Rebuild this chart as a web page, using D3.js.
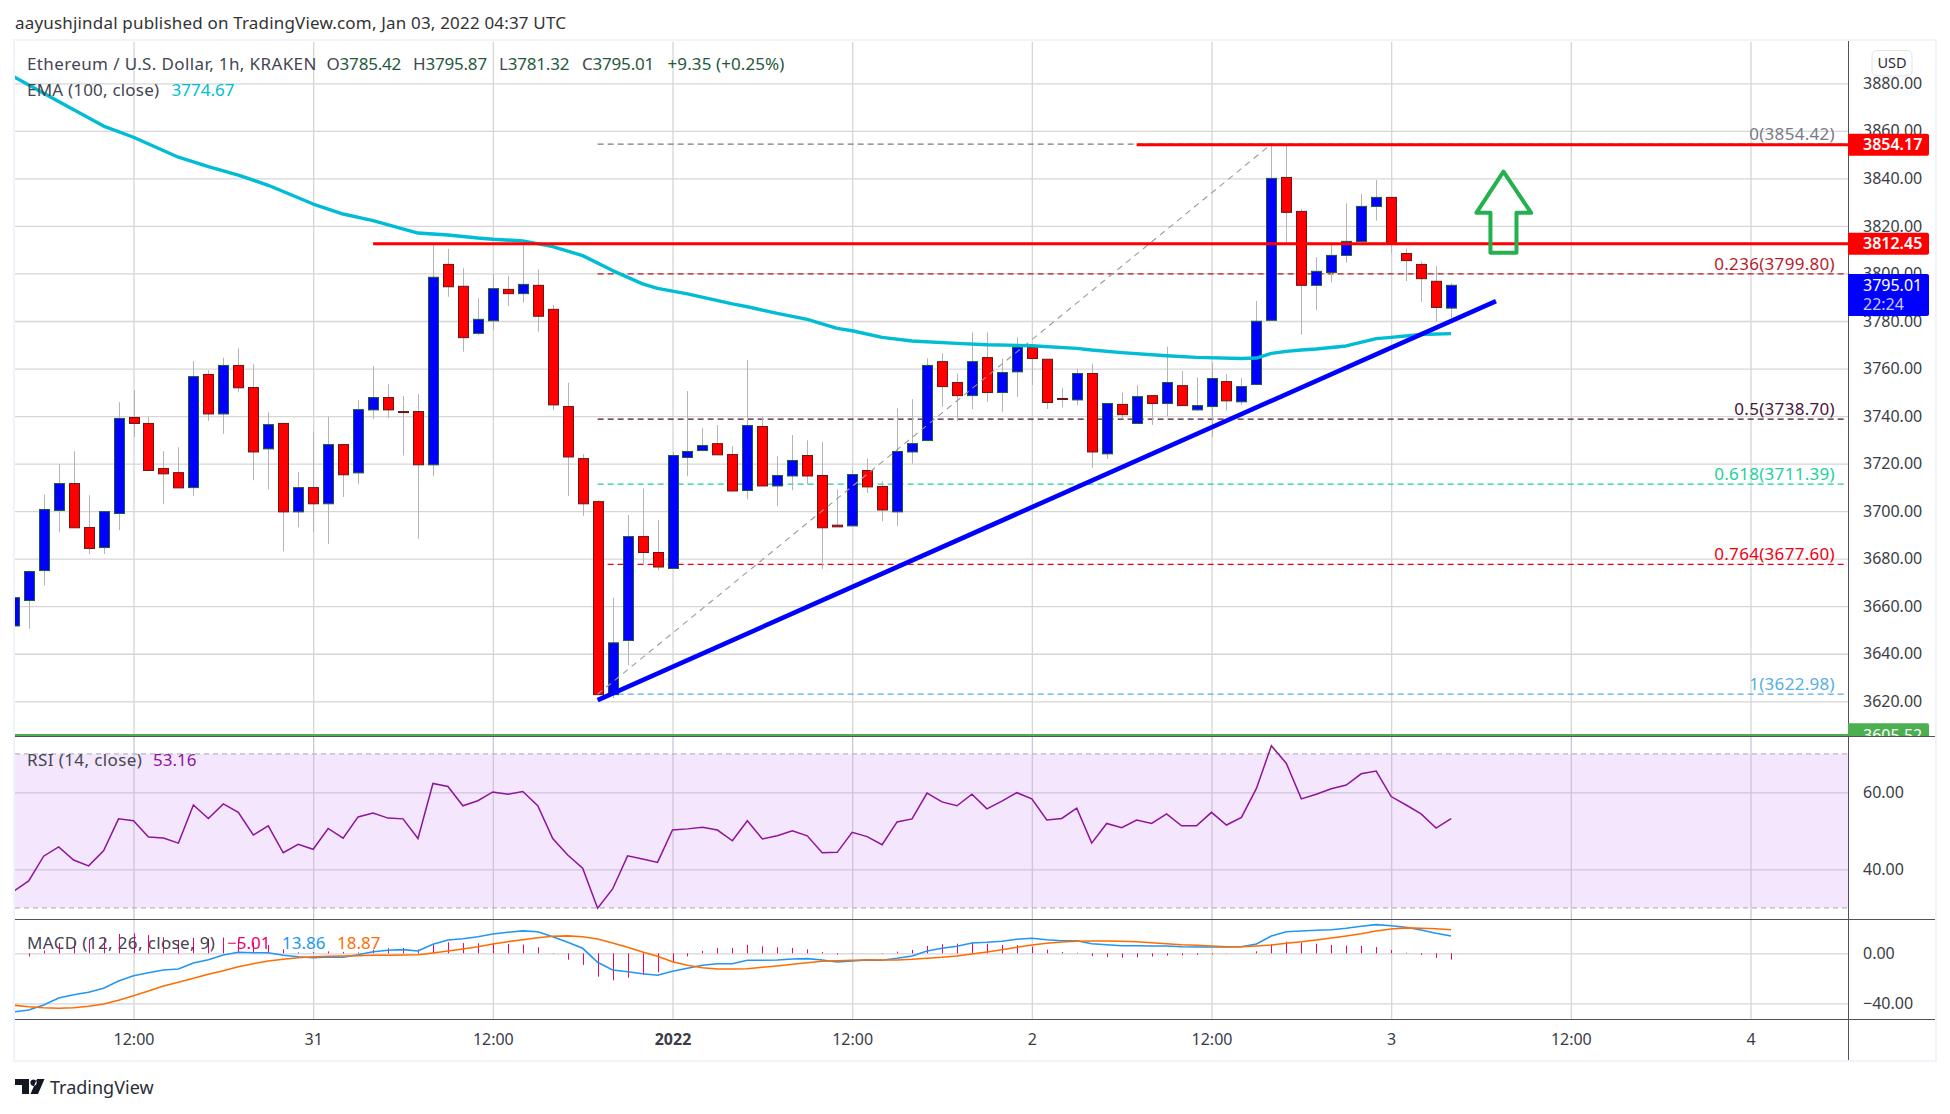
<!DOCTYPE html>
<html><head><meta charset="utf-8">
<script src="https://cdnjs.cloudflare.com/ajax/libs/d3/7.8.5/d3.min.js"></script>
<style>
html,body{margin:0;padding:0;background:#fff}
svg{display:block}
text{font-family:"Noto Sans",sans-serif;}
</style></head><body><svg id="c" width="1950" height="1114"></svg>
<script>
// ---------- data ----------
const firstHour = -8; // hours relative to Dec 30 12:00
const opens  = [3651.7,3662.4,3675,3700.3,3711.6,3693.1,3684.7,3699,3739.4,3736.9,3717.9,3716.2,3709.9,3757.5,3740.9,3761.3,3752,3726.2,3736.9,3699.7,3709.9,3703.1,3728,3716.1,3742.6,3747.8,3741.9,3741.9,3719.5,3803.8,3794.6,3774.8,3780.1,3793.3,3791.5,3795,3784.9,3744,3722.1,3704,3622.8,3645.6,3689.3,3682.6,3675.9,3722.6,3725.5,3728.4,3723.8,3708.7,3735.6,3710.6,3714.8,3723.4,3715,3694.1,3693.8,3717.1,3710.4,3699.7,3724.9,3729.7,3762.9,3754.1,3748.6,3764.6,3749.9,3758.6,3768.9,3763.9,3747.4,3746.8,3757.9,3724.1,3744.9,3736.9,3748.6,3745.3,3752.8,3742.6,3744,3754.5,3746,3753.3,3780.3,3840.4,3826.1,3795,3800.4,3807.6,3813.4,3828.2,3832,3808.4,3803.8,3796.7,3785.42];
const highs  = [3664,3675,3707,3719.7,3725.2,3706.7,3700,3745.8,3750.9,3739.7,3725.2,3726.9,3763.1,3759.3,3764.6,3768.5,3761.8,3741.6,3737.2,3716.4,3733.2,3739.7,3728,3746.7,3761,3753.4,3748.4,3749.2,3812,3810.3,3802.2,3789.5,3799.8,3798.9,3812,3801.7,3786.7,3754,3724,3704.6,3663.6,3698.3,3709.5,3696.2,3724.9,3750.5,3734.9,3736.2,3727.3,3763.5,3739.7,3723.1,3732,3729.8,3729,3709.2,3717.2,3722.1,3712.6,3743.2,3747.1,3764.3,3766.4,3757.9,3775.2,3775.2,3764.2,3773.1,3769.9,3763.9,3751.9,3760,3762.1,3745.3,3749.9,3753,3748.6,3769.2,3758.9,3756.3,3762.5,3757.6,3755.9,3788.4,3854.42,3854.42,3827.1,3806.9,3812.6,3829.5,3833.4,3839.3,3832,3810.5,3805.1,3803.1,3795.87];
const lows   = [3651,3650.5,3668.8,3691.1,3693,3682,3682,3692,3731.2,3717,3702.9,3709.8,3706.4,3738,3732.5,3750.2,3713,3709.2,3683.1,3693.2,3691.1,3686.2,3706,3711.3,3738.7,3739.2,3723.5,3688.3,3714.7,3790.2,3767.1,3774,3776.2,3786.3,3787.7,3775.5,3742.5,3706.4,3698,3622.8,3621.4,3635.2,3677.3,3675.1,3675.9,3714.7,3725.5,3723.7,3708.1,3705,3710.6,3702.1,3708.8,3711.2,3675.7,3693.4,3693.8,3707.7,3695.8,3693.7,3720,3729.7,3743.9,3738,3742.9,3746,3741.8,3748.1,3753.1,3743,3743.7,3744.6,3718.2,3721.9,3739,3736.9,3736.3,3739.9,3744.4,3742.2,3731.2,3742.2,3744.6,3753.3,3780.3,3812,3774.2,3784.6,3796.1,3804.5,3813.4,3822.2,3808.4,3796.8,3788.1,3779.7,3781.32];
const closes = [3663.6,3674.6,3700.7,3711.6,3693,3684.3,3699.8,3739,3736.9,3717.1,3715.7,3709.8,3756.6,3740.9,3761.3,3751.9,3724.9,3736.4,3699.7,3709.9,3703.1,3728,3715.3,3742.7,3747.8,3742.6,3741.5,3719.5,3798.4,3794.4,3773,3780.7,3793.6,3791.5,3795.4,3782,3744.7,3722.8,3703.1,3622.8,3644.6,3689.3,3682.6,3676.5,3723.4,3725.1,3727.6,3723.7,3708.5,3736,3710.6,3715,3721.3,3714.8,3693,3693.4,3715.4,3710.2,3700.5,3725.1,3728.4,3761.3,3752.4,3748.6,3762.9,3749.9,3758.3,3768.9,3764.2,3745.7,3747.1,3757.9,3724.9,3745.3,3740.6,3748.2,3745.3,3754.1,3744.4,3744.4,3755.8,3746.4,3752.4,3779.9,3840,3825.7,3795,3800.9,3807.6,3813.5,3828.2,3832,3812.6,3805.4,3797.8,3785.7,3795.01];

const emaHours  = [-8,-6,-5,-2,0,3,5,7,9,12,14,16,19,21,23,24,26,28,30,32,34,35,37,40,41,43,45,47,48,50,52,55,57,60,63,64,66,69,71,74,75,76,77,78,79,81,83,84,86,88];
const emaValues = [3882.8,3875.8,3872.3,3862,3857.3,3848.9,3844.9,3841.4,3837.1,3829.2,3825,3822.2,3817,3816.2,3814.9,3814.4,3813.7,3811.3,3807.5,3801.2,3795.6,3793.7,3791.4,3787.2,3786,3783.2,3780.7,3776.9,3775.9,3773.1,3771.6,3770.6,3770,3769.6,3768.5,3767.8,3766.7,3765.4,3764.7,3764.2,3764.4,3766.4,3767.2,3767.8,3768.2,3769.5,3772.6,3773.1,3774.3,3774.67];

const rsiValues = [34.3,37,43.4,45.8,42.4,40.9,44.8,53.1,52.6,48.4,48.1,46.8,56.7,53.2,57,54.8,48.9,51.3,44.3,46.5,45.2,50.6,48.1,53.6,54.6,53.3,53.1,48,62.3,61.5,56.5,57.8,60.1,59.5,60.2,56.5,48,43.7,40.3,29.9,34.9,43.5,42.7,41.8,50.2,50.5,50.9,50.2,47.4,52.6,47.9,48.7,50,48.7,44.3,44.4,49.6,48.5,46.4,52.3,53.1,59.8,57.5,56.5,59.5,55.7,57.7,59.9,58.3,52.8,53.2,55.9,46.8,51.9,50.8,52.8,51.9,54.4,51.3,51.3,54.8,51.5,53.5,61,72.1,67.5,58.3,59.5,60.9,61.9,64.8,65.5,58.9,56.7,54.4,50.7,53.16];

const macdValues = [-46.9,-45.3,-41.3,-35.7,-33.1,-31.2,-28,-22.1,-17.9,-15.5,-13.3,-12.5,-7.7,-5.1,-1.3,0.8,0.5,0.5,-1.6,-2.7,-3.5,-2.9,-3.2,-1.1,1.3,2.4,2.9,1.9,7.2,10.7,11.7,13.3,15.5,16.8,17.9,17.3,13.3,8.8,4,-7.2,-13.3,-14.7,-16.3,-17.6,-14.4,-12,-9.6,-8.3,-8.3,-5.6,-5.6,-5.3,-4.5,-4.3,-5.3,-6.9,-6.1,-5.3,-5.6,-4,-2.1,1.9,4,5.6,8.3,8.8,9.6,11.2,12,10.9,10.1,10.1,7.7,6.9,6.1,6.1,5.9,5.9,5.3,5.1,5.1,5.1,5.3,7.5,13.9,17.3,17.9,18.4,18.9,20,21.6,22.9,22.1,20.8,18.7,16,13.86];
const signalValues = [-41.6,-42.7,-43.5,-44,-43.5,-42.4,-40.5,-37.6,-33.9,-30.1,-26.1,-23.2,-20,-16.8,-13.9,-10.7,-8.3,-6.1,-4.8,-3.5,-2.7,-2.4,-2.1,-1.9,-1.6,-1.6,-1.3,-1.1,0.3,1.9,3.5,5.3,7.5,9.3,10.9,12.5,13.6,13.9,13.3,11.5,8.3,4.8,1.1,-2.4,-6.7,-9.6,-11.5,-12.5,-12.5,-12.3,-11.2,-10.1,-8.8,-7.5,-6.4,-5.9,-5.6,-5.3,-5.3,-5.3,-4.8,-4,-3.2,-2.1,-0.5,1.1,2.9,4.8,6.7,8,9.1,9.6,9.9,9.9,9.6,9.3,8.5,7.7,6.9,6.4,5.9,5.3,5.3,5.9,6.7,8,9.3,10.7,12.3,13.9,15.7,17.9,19.5,20.3,20,19.7,18.87];
const histValues = [-5.3,-2.6,2.2,8.3,10.4,11.2,12.5,15.5,16,14.6,12.8,10.7,12.3,11.7,12.6,11.5,8.8,6.6,3.2,0.8,1,1.5,1.1,0.8,2.9,4,4.2,3,6.9,8.8,8.2,8,8,7.5,7,4.8,-0.3,-5.1,-9.3,-18.7,-21.6,-19.5,-17.4,-15.2,-7.7,-2.4,1.9,4.2,4.2,6.7,5.6,4.8,4.3,3.2,1.1,-1,-0.5,0,-0.3,1.3,2.7,5.9,7.2,7.7,8.8,7.7,6.7,6.4,5.3,2.9,1,0.5,-2.2,-3,-3.5,-3.2,-2.6,-1.8,-1.6,-1.3,-0.8,-0.2,0,1.6,7.2,9.3,8.6,7.7,6.6,6.1,5.9,5,2.6,0.5,-1.3,-3.7,-5.01];

const priceTicks = [3620,3640,3660,3680,3700,3720,3740,3760,3780,3800,3820,3840,3860,3880];
const rsiTicks = [40,60];
const rsiBand = [30,70];
const macdTicks = [-40,0];
const timeTickHours = [0,12,24,36,48,60,72,84,96,108];
const timeTickLabels = ["12:00","31","12:00","2022","12:00","2","12:00","3","12:00","4"];

const fibLevels = ["0","0.236","0.5","0.618","0.764","1"];
const fibPrices = [3854.42,3799.80,3738.70,3711.39,3677.60,3622.98];
const fibColors = ["#787b86","#b71c2c","#4a1436","#1ecf9b","#f00014","#57aee0"];
const fibStartHour = 31, fibEndHour = 76;

const resistancePrices = [3854.17,3812.45];
const resistanceStartHours = [67,16];
const trendHours = [31,91];
const trendPrices = [3620.5,3788.4];
const arrowHours  = [91.5,93.35,92.37,92.37,90.63,90.63,89.69];
const arrowPrices = [3842.8,3825.5,3825.5,3808.7,3808.7,3825.5,3825.5];
const supportPrice = 3605.52;

const ohlcKeys = ["O","H","L","C"];
const ohlcVals = ["3785.42","3795.87","3781.32","3795.01"];

// ---------- layout ----------
const svg = d3.select("#c");
const FONT = '"Noto Sans",sans-serif';
const panel = {l:15,r:1935,t:41,b:1060};
const axisX = 1848;
const paneMain = {t:42,b:736};
const paneRsi = {t:737,b:919};
const paneMacd = {t:920,b:1019};

const hours = d3.range(firstHour, firstHour + closes.length);
const x = d3.scaleLinear().domain([0,108]).range([133.5,1750.5]);
const y = d3.scaleLinear().domain([3620,3880]).range([701.3,83.3]);
const yR = d3.scaleLinear().domain([40,60]).range([869.3,792.3]);
const yM = d3.scaleLinear().domain([-40,0]).range([1003.3,953.3]);

const defs = svg.append("defs");
[["clipMain",paneMain],["clipRsi",paneRsi],["clipMacd",paneMacd]].forEach(([id,p])=>{
  defs.append("clipPath").attr("id",id).append("rect")
    .attr("x",panel.l).attr("y",p.t).attr("width",axisX-panel.l).attr("height",p.b-p.t);
});
defs.append("clipPath").attr("id","clipTag").append("rect")
    .attr("x",axisX).attr("y",paneMain.t).attr("width",90).attr("height",paneMain.b-paneMain.t);

// panel background + frame
svg.append("rect").attr("x",panel.l-1).attr("y",panel.t-1).attr("width",panel.r-panel.l+2).attr("height",panel.b-panel.t+2)
  .attr("fill","#fff").attr("stroke","#f0f3fa").attr("stroke-width",2);

const gridColor = "#d6d6d6";

const main = svg.append("g").attr("clip-path","url(#clipMain)");
const rsiG = svg.append("g").attr("clip-path","url(#clipRsi)");
const macdG = svg.append("g").attr("clip-path","url(#clipMacd)");

rsiG.append("rect").attr("x",panel.l).attr("width",axisX-panel.l)
  .attr("y",yR(rsiBand[1])).attr("height",yR(rsiBand[0])-yR(rsiBand[1])).attr("fill","#f4e6fd");

// gridlines through d3 axes
function hGrid(g,scale,ticks,color){
  const a = g.append("g").attr("transform",`translate(${panel.l},0)`)
    .call(d3.axisRight(scale).tickValues(ticks).tickSize(axisX-panel.l).tickFormat(""));
  a.select(".domain").remove();
  a.selectAll("line").attr("stroke",color).attr("stroke-width",1.3);
}
function vGrid(g,p,color){
  const a = g.append("g").attr("transform",`translate(0,${p.t})`)
    .call(d3.axisBottom(x).tickValues(timeTickHours).tickSize(p.b-p.t).tickFormat(""));
  a.select(".domain").remove();
  a.selectAll("line").attr("stroke",color).attr("stroke-width",1.3);
}
vGrid(main,paneMain,gridColor); hGrid(main,y,priceTicks,gridColor);
vGrid(rsiG,paneRsi,"#cfc4d8"); hGrid(rsiG,yR,rsiTicks,"#cfc4d8");
vGrid(macdG,paneMacd,gridColor); hGrid(macdG,yM,macdTicks,gridColor);

// RSI band limits
rsiBand.forEach(v=>{
  rsiG.append("line").attr("x1",panel.l).attr("x2",axisX).attr("y1",yR(v)).attr("y2",yR(v))
    .attr("stroke","#bcb5c0").attr("stroke-width",1.2).attr("stroke-dasharray","5 4");
});

// Fibonacci levels
fibPrices.forEach((p,i)=>{
  main.append("line").attr("x1",x(fibStartHour)).attr("x2",axisX-3).attr("y1",y(p)).attr("y2",y(p))
    .attr("stroke",fibColors[i]).attr("stroke-width",1.2).attr("stroke-dasharray","6 4");
});

// candles
const candles = hours.map((h,i)=>({h,o:opens[i],hi:highs[i],lo:lows[i],c:closes[i]}));
const cg = main.append("g");
cg.selectAll("line.wick").data(candles).join("line").attr("class","wick")
  .attr("x1",d=>Math.round(x(d.h))+.5).attr("x2",d=>Math.round(x(d.h))+.5)
  .attr("y1",d=>y(d.hi)).attr("y2",d=>y(d.lo))
  .attr("stroke","#b4b4b4").attr("stroke-width",1);
cg.selectAll("rect.body").data(candles).join("rect").attr("class","body")
  .attr("x",d=>Math.round(x(d.h))-4.5).attr("width",10)
  .attr("y",d=>y(Math.max(d.o,d.c)))
  .attr("height",d=>Math.max(1,Math.abs(y(d.o)-y(d.c))))
  .attr("fill",d=>d.c>=d.o?"#0000ff":"#ff0000")
  .attr("stroke",d=>d.c>=d.o?"#1e5c33":"#6e1414").attr("stroke-width",1);

// Fib diagonal
main.append("line").attr("x1",x(fibStartHour)).attr("y1",y(fibPrices[5]))
  .attr("x2",x(fibEndHour)).attr("y2",y(fibPrices[0]))
  .attr("stroke","#9a9a9a").attr("stroke-width",1.1).attr("stroke-dasharray","6 5");

// EMA
const lineEma = d3.line().x((d,i)=>x(emaHours[i])).y(d=>y(d));
main.append("path").datum(emaValues).attr("d",lineEma).attr("fill","none")
  .attr("stroke","#00bcd4").attr("stroke-width",3.4).attr("stroke-linejoin","round");

// Support level (green)
main.append("line").attr("x1",panel.l).attr("x2",axisX).attr("y1",y(supportPrice)-.5).attr("y2",y(supportPrice)-.5)
  .attr("stroke","#4caf50").attr("stroke-width",2.4);

// resistance lines
resistancePrices.forEach((p,i)=>{
  main.append("line").attr("x1",x(resistanceStartHours[i])).attr("x2",axisX).attr("y1",y(p)).attr("y2",y(p))
    .attr("stroke","#ff0000").attr("stroke-width",3);
});

// trend line
main.append("line").attr("x1",x(trendHours[0])).attr("y1",y(trendPrices[0]))
  .attr("x2",x(trendHours[1])).attr("y2",y(trendPrices[1]))
  .attr("stroke","#0000ff").attr("stroke-width",4.6);

// arrow
main.append("path").datum(arrowHours)
  .attr("d",d3.line().x(d=>x(d)).y((d,i)=>y(arrowPrices[i])).curve(d3.curveLinearClosed))
  .attr("fill","none").attr("stroke","#22b14c").attr("stroke-width",4).attr("stroke-linejoin","round");

// Fib labels
fibLevels.forEach((l,i)=>{
  main.append("text").attr("x",1835).attr("y",y(fibPrices[i])-8.5).attr("dominant-baseline","middle").attr("text-anchor","end")
    .attr("font-size",17).attr("letter-spacing",.3).attr("fill",fibColors[i]).text(`${l}(${fibPrices[i].toFixed(2)})`);
});

// RSI / MACD lines
rsiG.append("path").datum(rsiValues).attr("d",d3.line().x((d,i)=>x(hours[i])).y(d=>yR(d)))
  .attr("fill","none").attr("stroke","#8e1599").attr("stroke-width",1.5);
macdG.selectAll("line.hist").data(histValues).join("line").attr("class","hist")
  .attr("x1",(d,i)=>Math.round(x(hours[i]))+.5).attr("x2",(d,i)=>Math.round(x(hours[i]))+.5)
  .attr("y1",yM(0)).attr("y2",d=>yM(d)).attr("stroke","#f0006b").attr("stroke-width",1);
macdG.append("path").datum(macdValues).attr("d",d3.line().x((d,i)=>x(hours[i])).y(d=>yM(d)))
  .attr("fill","none").attr("stroke","#2196f3").attr("stroke-width",1.6);
macdG.append("path").datum(signalValues).attr("d",d3.line().x((d,i)=>x(hours[i])).y(d=>yM(d)))
  .attr("fill","none").attr("stroke","#ff6d00").attr("stroke-width",1.6);

// axis frame lines
const lineCol = "#50535e";
[[paneMain.b+.5],[paneRsi.b+.5],[paneMacd.b+.5]].forEach(([yy])=>{
  svg.append("line").attr("x1",panel.l).attr("x2",panel.r).attr("y1",yy).attr("y2",yy).attr("stroke",lineCol).attr("stroke-width",1);
});
svg.append("line").attr("x1",axisX+.5).attr("x2",axisX+.5).attr("y1",panel.t).attr("y2",panel.b).attr("stroke",lineCol).attr("stroke-width",1);

// right axes via d3
function rightAxis(scale,ticks){
  const a = svg.append("g").attr("transform",`translate(1863,0)`)
    .call(d3.axisRight(scale).tickValues(ticks).tickSize(0).tickPadding(0)
      .tickFormat(v=>d3.format(".2f")(v).replace("-","−")));
  a.select(".domain").remove();
  a.selectAll("text").attr("font-size",16).attr("font-family",FONT).attr("fill","#3a3d46");
}
rightAxis(y,priceTicks);
rightAxis(yR,rsiTicks);
rightAxis(yM,macdTicks);

// bottom axis via d3
const bAxis = svg.append("g").attr("transform","translate(0,1034)")
  .call(d3.axisBottom(x).tickValues(timeTickHours).tickSize(0).tickPadding(0)
    .tickFormat((d,i)=>timeTickLabels[i]));
bAxis.select(".domain").remove();
bAxis.selectAll("text").attr("font-size",16).attr("font-family",FONT).attr("fill","#3a3d46")
  .attr("font-weight",(d,i)=>timeTickLabels[i]==="2022"?"700":"400");

// tags
function tag(top,bottom,fill,clip){
  return svg.append("path").attr("d",`M${axisX} ${top}H${axisX+79}a2 2 0 0 1 2 2V${bottom-2}a2 2 0 0 1 -2 2H${axisX}Z`)
    .attr("fill",fill).attr("clip-path",clip||null);
}
const tagText=(yy,t,fill,clip)=>svg.append("text").attr("x",1863).attr("y",yy).attr("dominant-baseline","middle")
  .attr("font-size",16).attr("fill",fill).attr("clip-path",clip||null).text(t);
tag(y(resistancePrices[0])-11,y(resistancePrices[0])+11,"#ff0000");
tagText(y(resistancePrices[0])+1,resistancePrices[0].toFixed(2),"#fff").attr("font-weight",600);
tag(y(resistancePrices[1])-11,y(resistancePrices[1])+11,"#ff0000");
tagText(y(resistancePrices[1])+1,resistancePrices[1].toFixed(2),"#fff").attr("font-weight",600);
tag(274,316,"#0000ff");
tagText(287,ohlcVals[3],"#fff");
tagText(306,"22:24","#c8c8ff");
tag(y(supportPrice)-12.5,y(supportPrice)+11,"#4caf50","url(#clipTag)");
tagText(y(supportPrice)+1,supportPrice.toFixed(2),"#fff","url(#clipTag)");

// USD button
svg.append("rect").attr("x",1872).attr("y",50.5).attr("width",40).attr("height",25.5).attr("rx",5)
  .attr("fill","#fff").attr("stroke","#e0e3eb");
svg.append("text").attr("x",1892).attr("y",64).attr("text-anchor","middle").attr("dominant-baseline","middle")
  .attr("font-size",14.5).attr("fill","#2a2e39").text("USD");

// top caption
svg.append("text").attr("x",15).attr("y",24).attr("dominant-baseline","middle").attr("font-size",17).attr("letter-spacing",.18).attr("fill","#333")
  .text("aayushjindal published on TradingView.com, Jan 03, 2022 04:37 UTC");

// legends
const lg=(xx,yy,t,fill,sp)=>svg.append("text").attr("x",xx).attr("y",yy).attr("dominant-baseline","middle")
  .attr("font-size",17).attr("letter-spacing",sp||0).attr("fill",fill).text(t);
lg(27,65,"Ethereum / U.S. Dollar, 1h, KRAKEN","#434651",.38);
const ohlcX=[326.5,413,499,582];
ohlcKeys.forEach((k,i)=>{
  const t=svg.append("text").attr("x",ohlcX[i]).attr("y",65).attr("dominant-baseline","middle").attr("font-size",17).attr("letter-spacing",-.2);
  t.append("tspan").attr("fill","#434651").text(k);
  t.append("tspan").attr("fill","#1f5a3c").text(ohlcVals[i]);
});
lg(667.5,65,"+9.35 (+0.25%)","#1f5a3c",.1);
lg(27,91,"EMA (100, close)","#434651",.2);
lg(171.5,91,"3774.67","#00bcd4");
lg(27,761,"RSI (14, close)","#434651",.4);
lg(153,761,"53.16","#8e1599");
lg(27,944,"MACD (12, 26, close, 9)","#434651",.37);
lg(227,944,"−5.01","#f0006b");
lg(282,944,"13.86","#2196f3");
lg(337,944,"18.87","#ff6d00");

// footer logo + wordmark
svg.append("path").attr("fill","#131722")
  .attr("d","M15 1079h14v15h-7v-9h-7z M33.5 1079.5a3.2 3.2 0 1 0 .01 0z M44.5 1079l-6.5 15h-7.5l6.5-15z");
svg.append("text").attr("x",50).attr("y",1089).attr("dominant-baseline","middle").attr("font-size",18).attr("fill","#2a2e39").text("TradingView");
</script></body></html>
